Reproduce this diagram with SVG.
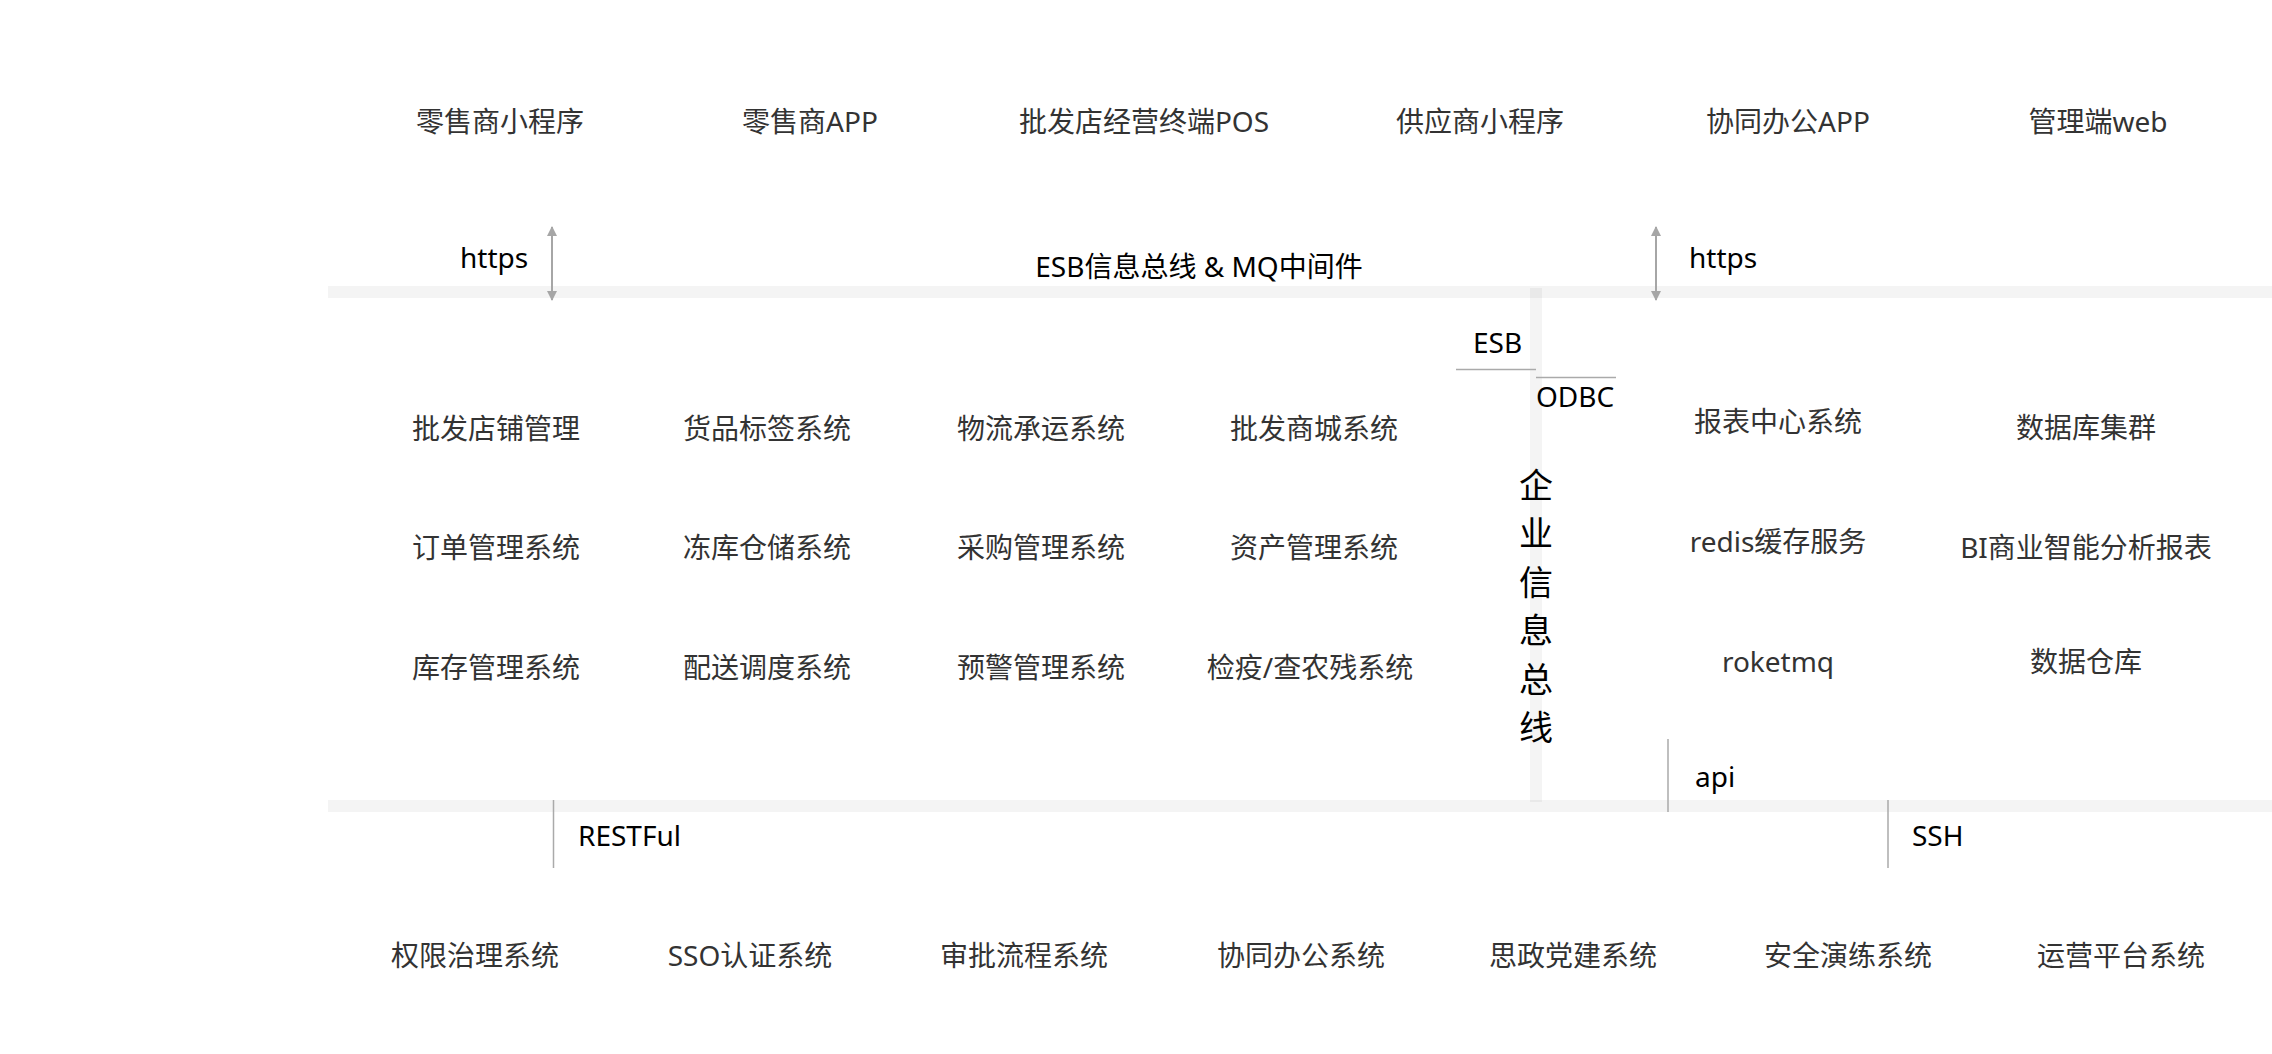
<svg xmlns="http://www.w3.org/2000/svg" width="2272" height="1054" viewBox="0 0 2272 1054">
<style>
text{font-family:"Noto Sans","Noto Sans CJK SC",sans-serif;font-size:28px}
.n{fill:#333;text-anchor:middle}
.l{fill:#000}
.bar{fill:#000;fill-opacity:0.045}
.c{stroke:#aaa;stroke-width:1.5;fill:none}
.arr{stroke:#a6a6a6;stroke-width:2;fill:none;marker-start:url(#ah);marker-end:url(#ah)}
.v{fill:#000;text-anchor:middle;font-size:34px}
</style>
<defs>
<marker id="ah" viewBox="0 0 10 10" refX="9" refY="5" markerWidth="5" markerHeight="5" orient="auto-start-reverse" markerUnits="strokeWidth">
<path d="M0,0 L10,5 L0,10 z" fill="#a6a6a6"/>
</marker>
</defs>
<rect width="2272" height="1054" fill="#fff"/>
<g id="buses">
<rect class="bar" x="328" y="286" width="1944" height="12"/>
<rect class="bar" x="328" y="800" width="1944" height="12"/>
<rect class="bar" x="1530" y="288" width="12" height="514"/>
<text class="l" x="1199" y="277" text-anchor="middle">ESB信息总线 &amp; MQ中间件</text>
<g id="esb-vertical">
<text class="v" x="1536" y="498">企</text>
<text class="v" x="1536" y="546">业</text>
<text class="v" x="1536" y="595">信</text>
<text class="v" x="1536" y="643">息</text>
<text class="v" x="1536" y="692">总</text>
<text class="v" x="1536" y="740">线</text>
</g>
</g>
<g id="connectors">
<line class="arr" x1="552" y1="300" x2="552" y2="227"/>
<line class="arr" x1="1656" y1="300" x2="1656" y2="227"/>
<line class="c" x1="1456" y1="369.5" x2="1536" y2="369.5"/>
<line class="c" x1="1536" y1="377.5" x2="1616" y2="377.5"/>
<line class="c" x1="1668" y1="739" x2="1668" y2="812"/>
<line class="c" x1="553.5" y1="800" x2="553.5" y2="868"/>
<line class="c" x1="1888" y1="800" x2="1888" y2="868"/>
<text class="l" x="460" y="268">https</text>
<text class="l" x="1689" y="268">https</text>
<text class="l" x="1473" y="353">ESB</text>
<text class="l" x="1536" y="407">ODBC</text>
<text class="l" x="1695" y="787">api</text>
<text class="l" x="578" y="846">RESTFul</text>
<text class="l" x="1912" y="846">SSH</text>
</g>
<g id="n-retail-mini"><text class="n" x="500" y="132">零售商小程序</text></g>
<g id="n-retail-app"><text class="n" x="810" y="132">零售商APP</text></g>
<g id="n-pos"><text class="n" x="1144" y="132">批发店经营终端POS</text></g>
<g id="n-supplier-mini"><text class="n" x="1480" y="132">供应商小程序</text></g>
<g id="n-office-app"><text class="n" x="1788" y="132">协同办公APP</text></g>
<g id="n-admin-web"><text class="n" x="2098" y="132">管理端web</text></g>

<g id="n-shop"><text class="n" x="496" y="439">批发店铺管理</text></g>
<g id="n-label"><text class="n" x="767" y="439">货品标签系统</text></g>
<g id="n-logistics"><text class="n" x="1041" y="439">物流承运系统</text></g>
<g id="n-mall"><text class="n" x="1314" y="439">批发商城系统</text></g>
<g id="n-order"><text class="n" x="496" y="558">订单管理系统</text></g>
<g id="n-cold"><text class="n" x="767" y="558">冻库仓储系统</text></g>
<g id="n-purchase"><text class="n" x="1041" y="558">采购管理系统</text></g>
<g id="n-asset"><text class="n" x="1314" y="558">资产管理系统</text></g>
<g id="n-stock"><text class="n" x="496" y="678">库存管理系统</text></g>
<g id="n-dispatch"><text class="n" x="767" y="678">配送调度系统</text></g>
<g id="n-alert"><text class="n" x="1041" y="678">预警管理系统</text></g>
<g id="n-quarantine"><text class="n" x="1310" y="678">检疫/查农残系统</text></g>

<g id="n-report"><text class="n" x="1778" y="432">报表中心系统</text></g>
<g id="n-dbcluster"><text class="n" x="2086" y="438">数据库集群</text></g>
<g id="n-redis"><text class="n" x="1778" y="552">redis缓存服务</text></g>
<g id="n-bi"><text class="n" x="2086" y="558">BI商业智能分析报表</text></g>
<g id="n-mq"><text class="n" x="1778" y="672">roketmq</text></g>
<g id="n-dw"><text class="n" x="2086" y="672">数据仓库</text></g>

<g id="n-auth"><text class="n" x="475" y="966">权限治理系统</text></g>
<g id="n-sso"><text class="n" x="750" y="966">SSO认证系统</text></g>
<g id="n-approval"><text class="n" x="1024" y="966">审批流程系统</text></g>
<g id="n-office"><text class="n" x="1301" y="966">协同办公系统</text></g>
<g id="n-party"><text class="n" x="1573" y="966">思政党建系统</text></g>
<g id="n-security"><text class="n" x="1848" y="966">安全演练系统</text></g>
<g id="n-ops"><text class="n" x="2121" y="966">运营平台系统</text></g>
</svg>
